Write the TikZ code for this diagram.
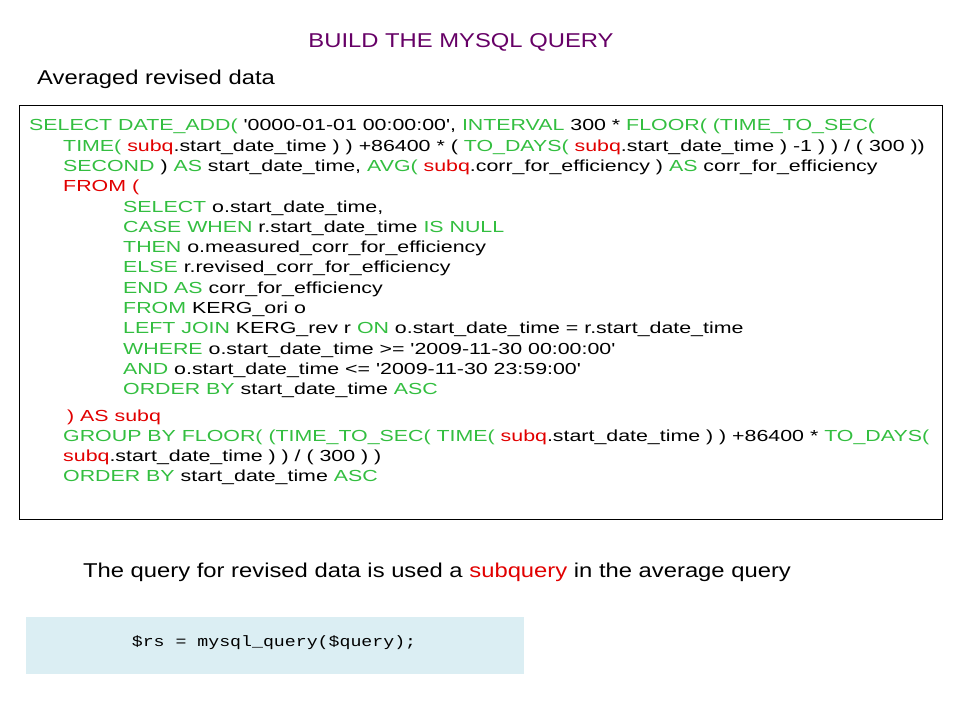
\documentclass[tikz,border=0pt]{standalone}
\usepackage{fontspec}
\setmainfont{Liberation Sans}[Ligatures=TeXOff, FakeStretch=1.19]
\setmonofont{Liberation Mono}[FakeStretch=1.215]
\newfontfamily\sqlfont{Liberation Sans}[Ligatures=TeXOff, FakeStretch=1.335]
\definecolor{sqlgreen}{RGB}{51,190,64}
\definecolor{sqlred}{RGB}{225,0,0}
\definecolor{titlepurple}{RGB}{102,0,102}
\definecolor{codeblue}{RGB}{219,238,243}
% keywords and the subquery alias
\newcommand{\kw}[1]{\textcolor{sqlgreen}{#1}}
\newcommand{\sq}[1]{\textcolor{sqlred}{#1}}
\newcommand{\indA}{\hspace*{34pt}}
\newcommand{\indB}{\hspace*{94pt}}
\begin{document}
\begin{tikzpicture}[x=1pt,y=-1pt]
  \useasboundingbox (0,0) rectangle (960,720);

  % Headings
  \node[text=titlepurple, font=\fontsize{20}{24}\selectfont] (title) at (461,42) {BUILD THE MYSQL QUERY};
  \node[anchor=west, inner sep=0pt, font=\fontsize{20}{24}\selectfont] (subtitle) at (37,79) {Averaged revised data};

  % Query frame
  \node[draw, thin, anchor=north west, minimum width=923pt, minimum height=414pt, inner sep=0pt] (frame) at (19,105) {};

  % The query itself
  \node[anchor=north west, inner sep=0pt, align=left, font=\sqlfont\fontsize{16}{20.3}\selectfont] (query) at (29,119) {%
    \kw{SELECT DATE\_ADD(} '0000-01-01 00:00:00', \kw{INTERVAL} 300 * \kw{FLOOR( (TIME\_TO\_SEC(}\\
    \indA\kw{TIME(} \sq{subq}.start\_date\_time ) ) +86400 * ( \kw{TO\_DAYS(} \sq{subq}.start\_date\_time ) -1 ) ) / ( 300 ))\\
    \indA\kw{SECOND} ) \kw{AS} start\_date\_time, \kw{AVG(} \sq{subq}.corr\_for\_efficiency ) \kw{AS} corr\_for\_efficiency\\
    \indA\sq{FROM (}\\
    \indB\kw{SELECT} o.start\_date\_time,\\
    \indB\kw{CASE WHEN} r.start\_date\_time \kw{IS NULL}\\
    \indB\kw{THEN} o.measured\_corr\_for\_efficiency\\
    \indB\kw{ELSE} r.revised\_corr\_for\_efficiency\\
    \indB\kw{END AS} corr\_for\_efficiency\\
    \indB\kw{FROM} KERG\_ori o\\
    \indB\kw{LEFT JOIN} KERG\_rev r \kw{ON} o.start\_date\_time = r.start\_date\_time\\
    \indB\kw{WHERE} o.start\_date\_time >= '2009-11-30 00:00:00'\\
    \indB\kw{AND} o.start\_date\_time <= '2009-11-30 23:59:00'\\
    \indB\kw{ORDER BY} start\_date\_time \kw{ASC}\\[6pt]
    \indA\hspace*{4pt}\sq{) AS subq}\\
    \indA\kw{GROUP BY FLOOR( (TIME\_TO\_SEC( TIME(} \sq{subq}.start\_date\_time ) ) +86400 * \kw{TO\_DAYS(}\\
    \indA\sq{subq}.start\_date\_time ) ) / ( 300 ) )\\
    \indA\kw{ORDER BY} start\_date\_time \kw{ASC}};

  % Remark
  \node[font=\fontsize{20}{24}\selectfont] (remark) at (437,572) {The query for revised data is used a \sq{subquery} in the average query};

  % PHP call
  \node[fill=codeblue, anchor=north west, minimum width=498pt, minimum height=57pt, inner sep=0pt] (phpbox) at (26,617) {};
  \node[font=\ttfamily\fontsize{15}{18}\selectfont] (php) at (274,643) {\$rs = mysql\_query(\$query);};
\end{tikzpicture}
\end{document}
